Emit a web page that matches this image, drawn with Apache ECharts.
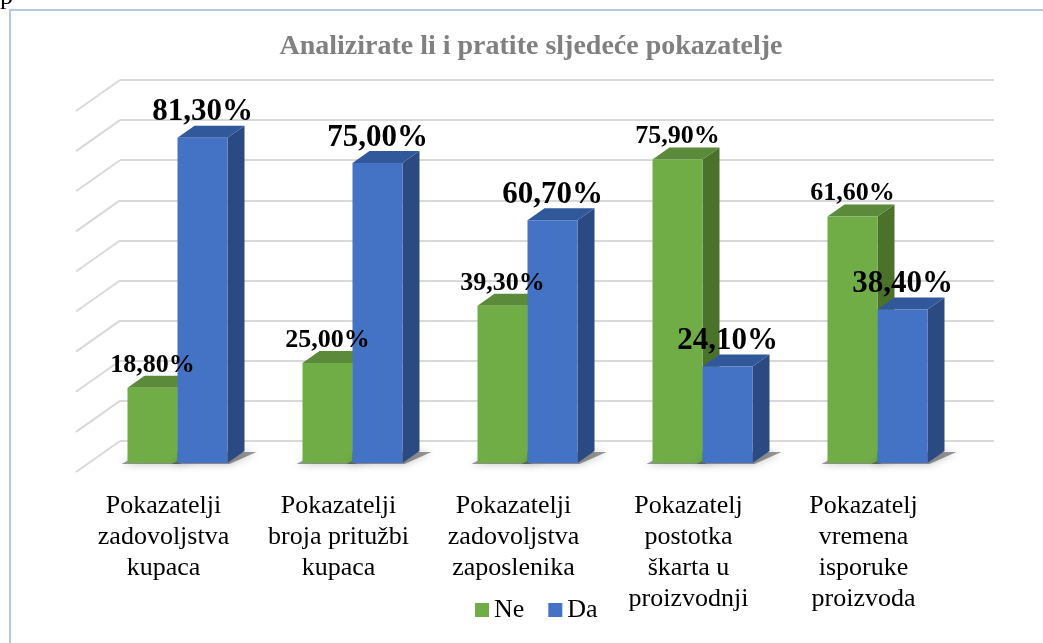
<!DOCTYPE html>
<html>
<head>
<meta charset="utf-8">
<script src="https://cdn.jsdelivr.net/npm/echarts@6/dist/echarts.min.js"></script>
<style>
  html, body { margin: 0; padding: 0; background: #ffffff; }
  #chart { width: 1043px; height: 643px; }
</style>
</head>
<body>
<div id="chart"></div>
<script>
// Survey answers: share of "Ne" / "Da" per indicator (percent)
const categories = [
  'Pokazatelji\nzadovoljstva\nkupaca',
  'Pokazatelji\nbroja pritužbi\nkupaca',
  'Pokazatelji\nzadovoljstva\nzaposlenika',
  'Pokazatelj\npostotka\nškarta u\nproizvodnji',
  'Pokazatelj\nvremena\nisporuke\nproizvoda'
];
const neValues = [18.8, 25.0, 39.3, 75.9, 61.6];
const daValues = [81.3, 75.0, 60.7, 24.1, 38.4];
const seriesNames = ['Ne', 'Da'];
const wallTicks = [0, 10, 20, 30, 40, 50, 60, 70, 80, 90];

const SERIF = '"Liberation Serif", "Times New Roman", serif';
const DEPTH_X = 17, DEPTH_Y = 12;        // bar depth in the oblique projection
const WALL_X = 44, WALL_Y = 31;          // side-wall depth
const BAR_SHARE = 50 / 175;              // bar width as share of category band

const palette = [
  { front: '#70ad47', top: '#5a8a3a', side: '#4a722b' },
  { front: '#4472c4', top: '#32589c', side: '#2b4a82' }
];

function fmt(v) { return v.toFixed(2).replace('.', ',') + '%'; }

function barGeom(api, sIdx) {
  const cat = api.value(0), val = api.value(1);
  const base = api.coord([cat, 0]);
  const top = api.coord([cat, val]);
  const w = api.size([1, 0])[0] * BAR_SHARE;
  const x0 = sIdx === 0 ? base[0] - w : base[0];
  return { x0, x1: x0 + w, yb: base[1], yt: top[1], w };
}

function barRenderer(sIdx) {
  const c = palette[sIdx];
  return function (params, api) {
    const g = barGeom(api, sIdx);
    const { x0, x1, yb, yt, w } = g;
    return {
      type: 'group',
      children: [
        { // soft floor shadow
          type: 'polygon',
          shape: { points: [[x0 - 6, yb + 1], [x1 + 2, yb + 1], [x1 + DEPTH_X + 12, yb - DEPTH_Y + 1], [x0 + DEPTH_X, yb - DEPTH_Y + 1]] },
          style: { fill: 'rgba(70,70,70,0.55)', shadowBlur: 8, shadowColor: 'rgba(0,0,0,0.45)' }
        },
        {
          type: 'polygon',
          shape: { points: [[x1, yt], [x1 + DEPTH_X, yt - DEPTH_Y], [x1 + DEPTH_X, yb - DEPTH_Y], [x1, yb]] },
          style: { fill: c.side }
        },
        {
          type: 'polygon',
          shape: { points: [[x0, yt], [x1, yt], [x1 + DEPTH_X, yt - DEPTH_Y], [x0 + DEPTH_X, yt - DEPTH_Y]] },
          style: { fill: c.top }
        },
        {
          type: 'rect',
          shape: { x: x0, y: yt, width: w, height: yb - yt },
          style: { fill: c.front }
        }
      ]
    };
  };
}

function labelRenderer(sIdx, size) {
  return function (params, api) {
    const g = barGeom(api, sIdx);
    return {
      type: 'text',
      style: {
        text: fmt(api.value(1)),
        x: (g.x0 + g.x1) / 2,
        y: g.yt - DEPTH_Y + 2,
        align: 'center',
        verticalAlign: 'bottom',
        font: 'bold ' + size + 'px ' + SERIF,
        fill: '#000000'
      }
    };
  };
}

function wallRenderer(params, api) {
  const p = api.coord([0, api.value(1)]);
  return {
    type: 'line',
    shape: { x1: p[0], y1: p[1], x2: p[0] - WALL_X, y2: p[1] + WALL_Y },
    style: { stroke: '#d9d9d9', lineWidth: 2 }
  };
}

const catData = (vals) => vals.map((v, i) => [i, v]);

const chart = echarts.init(document.getElementById('chart'), null, { renderer: 'canvas' });
chart.setOption({
  animation: false,
  backgroundColor: '#ffffff',
  title: {
    text: 'Analizirate li i pratite sljedeće pokazatelje',
    left: 531,
    top: 33,
    textAlign: 'center',
    padding: 0,
    textStyle: { fontFamily: SERIF, fontWeight: 'bold', fontSize: 28, color: '#808080' }
  },
  legend: {
    data: [
      { name: 'Ne', itemStyle: { color: palette[0].front } },
      { name: 'Da', itemStyle: { color: palette[1].front } }
    ],
    icon: 'rect',
    left: 475,
    top: 597,
    padding: 0,
    itemWidth: 14,
    itemHeight: 14,
    itemGap: 24,
    selectedMode: false,
    textStyle: { fontFamily: SERIF, fontSize: 26, color: '#000000' }
  },
  graphic: [
    { type: 'polyline', shape: { points: [[10, 643], [10, 10], [1043, 10]] },
      style: { stroke: '#b4c9e8', lineWidth: 2, fill: null }, z: -1 },
    { type: 'text', left: 0, top: -16, style: { text: 'p', font: '26px ' + SERIF, fill: '#000' } }
  ],
  grid: [
    { left: 90, right: 78, top: 103, bottom: 180 },   // bar plane
    { left: 120, right: 49, top: 80, bottom: 202 }    // back wall
  ],
  xAxis: [
    {
      gridIndex: 0, type: 'category', data: categories,
      axisLine: { show: false }, axisTick: { show: false },
      axisLabel: {
        interval: 0, margin: 28, fontFamily: SERIF, fontSize: 26, lineHeight: 31,
        color: '#000000', padding: [0, 28, 0, 0]
      }
    },
    { gridIndex: 1, type: 'value', min: 0, max: 1, show: false }
  ],
  yAxis: [
    { gridIndex: 0, type: 'value', min: 0, max: 90, show: false },
    {
      gridIndex: 1, type: 'value', min: 0, max: 90, interval: 10,
      axisLine: { show: false }, axisTick: { show: false }, axisLabel: { show: false },
      splitLine: { show: true, lineStyle: { color: '#d9d9d9', width: 2 } }
    }
  ],
  series: [
    { type: 'custom', name: 'wall', xAxisIndex: 1, yAxisIndex: 1, silent: true, z: 1,
      data: wallTicks.map(v => [0, v]), renderItem: wallRenderer },
    { type: 'custom', name: seriesNames[0], xAxisIndex: 0, yAxisIndex: 0, z: 2,
      itemStyle: { color: palette[0].front },
      data: catData(neValues), renderItem: barRenderer(0) },
    { type: 'custom', name: seriesNames[1], xAxisIndex: 0, yAxisIndex: 0, z: 3,
      itemStyle: { color: palette[1].front },
      data: catData(daValues), renderItem: barRenderer(1) },
    { type: 'custom', name: 'neLabels', xAxisIndex: 0, yAxisIndex: 0, z: 5, silent: true,
      data: catData(neValues), renderItem: labelRenderer(0, 26) },
    { type: 'custom', name: 'daLabels', xAxisIndex: 0, yAxisIndex: 0, z: 6, silent: true,
      data: catData(daValues), renderItem: labelRenderer(1, 31) }
  ]
});
</script>
</body>
</html>
